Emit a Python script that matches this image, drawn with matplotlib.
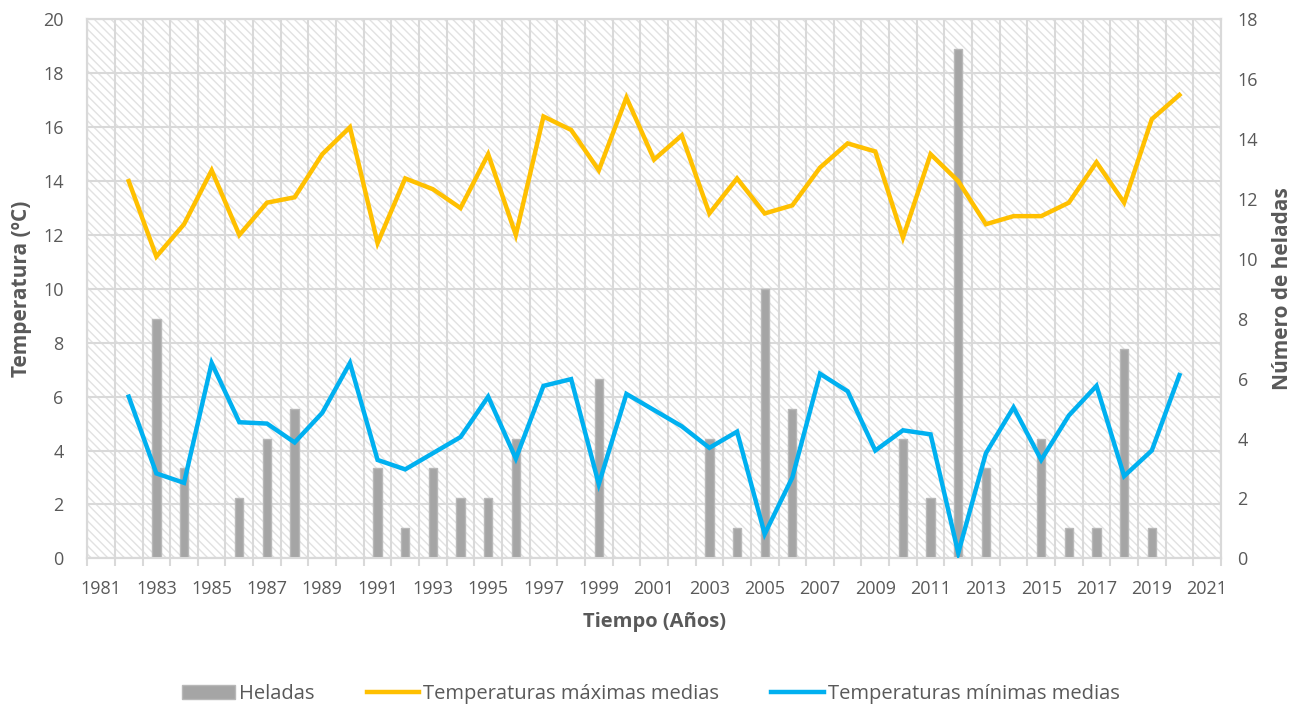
import matplotlib.pyplot as plt
from matplotlib.patches import Rectangle, Patch
from matplotlib.lines import Line2D
import numpy as np

plt.rcParams['font.family'] = ['Open Sans', 'DejaVu Sans']
plt.rcParams['hatch.linewidth'] = 1.0

#Datos anuales#
years = list(range(1982, 2021))
heladas = [0, 8, 3, 0, 2, 4, 5, 0, 0, 3, 1, 3, 2, 2, 4, 0, 0, 6, 0, 0,
           0, 4, 1, 9, 5, 0, 0, 0, 4, 2, 17, 3, 0, 4, 1, 1, 7, 1, 0]
t_max = [14.0, 11.2, 12.4, 14.4, 12.0, 13.2, 13.4, 15.0, 16.0, 11.7,
         14.1, 13.7, 13.0, 15.0, 12.0, 16.4, 15.9, 14.4, 17.1, 14.8,
         15.7, 12.8, 14.1, 12.8, 13.1, 14.5, 15.4, 15.1, 11.9, 15.0,
         14.0, 12.4, 12.7, 12.7, 13.2, 14.7, 13.2, 16.3, 17.2]
t_min = [6.0, 3.15, 2.8, 7.25, 5.05, 5.0, 4.3, 5.4, 7.25, 3.65,
         3.3, 3.9, 4.5, 6.0, 3.7, 6.4, 6.65, 2.75, 6.1, 5.5,
         4.9, 4.1, 4.7, 0.9, 3.0, 6.85, 6.2, 4.0, 4.75, 4.6,
         0.2, 3.9, 5.6, 3.65, 5.3, 6.4, 3.05, 4.0, 6.8]
year_labels = list(range(1981, 2022, 2))

grey = '#a5a5a5'
orange = '#ffc000'
blue = '#00b0f0'
gridc = '#d9d9d9'
txt = '#595959'

fig = plt.figure(figsize=(13.1, 7.11), dpi=100)
ax = fig.add_axes([0.0666, 0.2148, 0.8654, 0.7578])
ax2 = ax.twinx()

#Fondo rayado#
ax.add_patch(Rectangle((0, 0), 1, 1, transform=ax.transAxes, facecolor='white',
                       hatch='\\\\\\\\', edgecolor='#e2e2e2', lw=0, zorder=0))

ax.set_xlim(1980.5, 2021.5)
ax.set_ylim(0, 20)
ax2.set_ylim(0, 18)

ax.set_yticks(np.arange(0, 21, 2))
ax2.set_yticks(np.arange(0, 19, 2))
ax.set_xticks(year_labels)
ax.set_xticks(np.arange(1980.5, 2022, 1), minor=True)

ax.grid(axis='y', color=gridc, lw=1.5, zorder=1)
ax.grid(axis='x', which='minor', color=gridc, lw=1.5, zorder=1)
ax.set_axisbelow(True)

ax.tick_params(axis='x', which='major', length=0, labelsize=13, colors=txt, pad=16)
ax.tick_params(axis='x', which='minor', length=6, width=1.5, color=gridc)
ax.tick_params(axis='y', length=0, labelsize=13, colors=txt, pad=17)
ax2.tick_params(axis='y', length=0, labelsize=13, colors=txt, pad=12)

for a in (ax, ax2):
    for s in a.spines.values():
        s.set_color(gridc)
        s.set_linewidth(1.5)

#Barras de heladas en el eje secundario#
ax2.bar(years, heladas, width=0.3, color=grey, edgecolor='#b8b8b8', lw=1, zorder=2)

#Lineas de temperatura#
ax3 = ax.twinx()
ax3.set_ylim(0, 20)
ax3.axis('off')
ax3.plot(years, t_max, color=orange, lw=3.2, solid_joinstyle='miter', zorder=3)
ax3.plot(years, t_min, color=blue, lw=3.2, solid_joinstyle='miter', zorder=3)

ax.set_ylabel('Temperatura (ºC)', fontsize=15, fontweight='bold', color=txt, labelpad=8)
ax2.set_ylabel('Número de heladas', fontsize=15, fontweight='bold', color=txt, labelpad=10)
ax.set_xlabel('Tiempo (Años)', fontsize=14.5, fontweight='bold', color=txt, labelpad=10)

handles = [Patch(facecolor=grey, edgecolor='#b8b8b8'),
           Line2D([0], [0], color=orange, lw=3.2),
           Line2D([0], [0], color=blue, lw=3.2)]
labels = ['Heladas', 'Temperaturas máximas medias', 'Temperaturas mínimas medias']
fig.legend(handles, labels, loc='center', bbox_to_anchor=(0.497, 0.024), ncol=3,
           frameon=False, fontsize=14.5, labelcolor=txt, columnspacing=2.6,
           handlelength=2.6, handletextpad=0.2)

fig.savefig('out.png', dpi=100)
